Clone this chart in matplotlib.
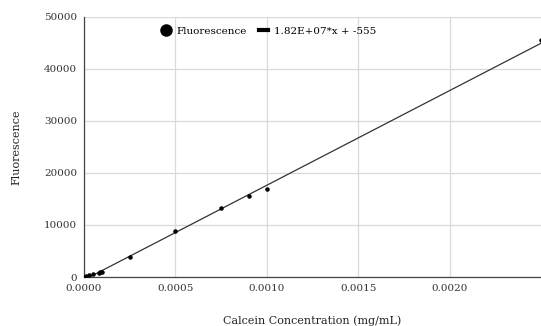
import matplotlib
matplotlib.use("Agg")
import matplotlib.pyplot as plt
import numpy as np
from matplotlib.lines import Line2D

conc = [0.0, 0.00001, 0.000025, 0.00005, 0.00008, 0.00009, 0.0001,
        0.00025, 0.0005, 0.00075, 0.0009, 0.001, 0.0025]
fluor = [0, 150, 300, 600, 800, 900, 1050,
         3850, 8850, 13250, 15600, 16900, 45600]
slope = 1.82e7
intercept = -555
fit_label = "1.82E+07*x + -555"
xticks = [0.0, 0.0005, 0.0010, 0.0015, 0.0020]
yticks = [0, 10000, 20000, 30000, 40000, 50000]

plt.rcParams['font.family'] = ['DejaVu Serif']
fig = plt.figure(figsize=(5.41, 3.26), dpi=100)
ax = fig.add_axes([0.1553, 0.1503, 0.8447, 0.7976])

xs = np.array([0.0, 0.0025])
ax.plot(xs, slope * xs + intercept, color='#333333', lw=0.9, zorder=2)
ax.scatter(conc, fluor, s=5, color='black', zorder=3, clip_on=True)

ax.set_xlim(0, 0.0025)
ax.set_ylim(0, 50000)
ax.set_xticks(xticks)
ax.set_xticklabels([f"{t:.4f}" for t in xticks])
ax.set_yticks(yticks)
ax.set_yticklabels([str(t) for t in yticks])
ax.tick_params(length=0, labelsize=7.5, colors='#333333', pad=5)
ax.grid(True, color='#d9d9d9', lw=0.9)
ax.set_axisbelow(True)
for s in ['top', 'right']:
    ax.spines[s].set_visible(False)
for s in ['left', 'bottom']:
    ax.spines[s].set_color('#444444')
    ax.spines[s].set_linewidth(0.9)

ax.set_xlabel("Calcein Concentration (mg/mL)", fontsize=8, color='#222222', labelpad=16)
ax.set_ylabel("Fluorescence", fontsize=8, color='#222222', labelpad=16)

handles = [Line2D([], [], marker='o', color='black', ls='none', markersize=8),
           Line2D([], [], color='black', lw=3)]
ax.legend(handles, ["Fluorescence", fit_label], loc='upper center',
          bbox_to_anchor=(0.405, 1.0), ncol=2, frameon=False, fontsize=7.5,
          handlelength=0.8, handletextpad=0.6, columnspacing=1.2)

fig.savefig("out.png", dpi=100)
